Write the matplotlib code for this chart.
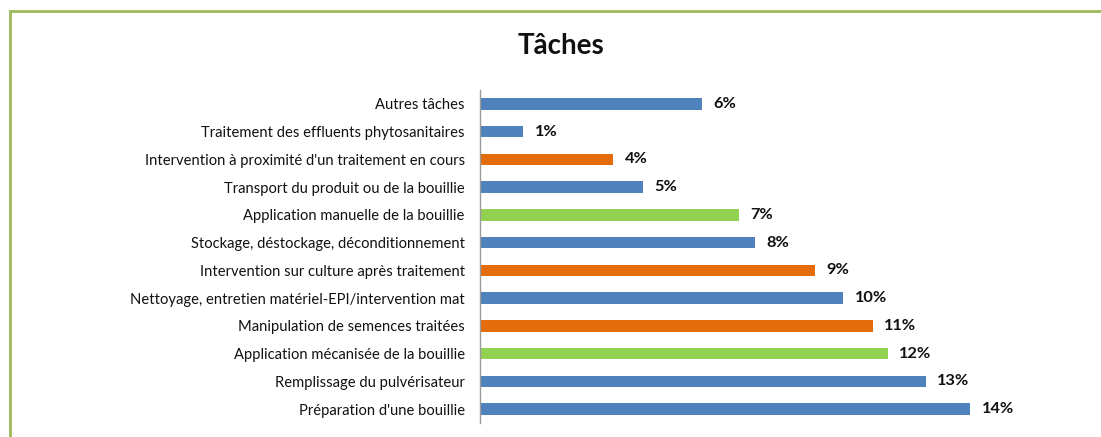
import numpy as np
import matplotlib
matplotlib.use("Agg")
import matplotlib.pyplot as plt
from matplotlib.patches import Rectangle

# data (bottom to top)
taches = [
    "Préparation d'une bouillie",
    "Remplissage du pulvérisateur",
    "Application mécanisée de la bouillie",
    "Manipulation de semences traitées",
    "Nettoyage, entretien matériel-EPI/intervention mat",
    "Intervention sur culture après traitement",
    "Stockage, déstockage, déconditionnement",
    "Application manuelle de la bouillie",
    "Transport du produit ou de la bouillie",
    "Intervention à proximité d'un traitement en cours",
    "Traitement des effluents phytosanitaires",
    "Autres tâches",
]
pourcent = [13.86, 12.60, 11.52, 11.11, 10.27, 9.46, 7.77, 7.33, 4.60, 3.77, 1.22, 6.28]
groupe = ["b", "b", "g", "o", "b", "o", "b", "g", "b", "o", "b", "b"]

couleurs = {"b": "#4F81BD", "o": "#E46C0A", "g": "#92D050"}

plt.rcParams['font.family'] = ['Lato', 'DejaVu Sans']

W, H = 1101, 437
fig = plt.figure(figsize=(W / 100, H / 100), dpi=100)
ax = fig.add_axes([480 / W, 1 - 423 / H, (1046 - 480) / W, (423 - 90) / H])

y = np.arange(len(taches))
ax.barh(y, pourcent, height=0.42, color=[couleurs[g] for g in groupe])

for yi, v in zip(y, pourcent):
    ax.text(v + 0.32, yi, "%d%%" % round(v), va="center", ha="left",
            fontsize=11.8, fontweight="bold", color="#111111")

ax.set_xlim(0, 16)
ax.set_ylim(-0.5, len(taches) - 0.5)
ax.set_yticks(y)
ax.set_yticklabels(taches, fontsize=10.6, color="#111111")
ax.tick_params(axis="y", length=0, pad=11)
ax.set_xticks([])
for s in ["top", "right", "bottom"]:
    ax.spines[s].set_visible(False)
ax.spines["left"].set_color("#9a9a9a")
ax.spines["left"].set_linewidth(1)

fig.text(561 / W, 1 - 46 / H, "Tâches", ha="center", va="center",
         fontsize=20, fontweight="bold", color="#111111")

# chart frame
fig.patches.append(Rectangle((10 / W, -0.05), 1.2, 1 - 11 / H + 0.05,
                             transform=fig.transFigure, fill=False,
                             edgecolor="#9BBB59", linewidth=2))

fig.savefig("out.png", dpi=100)
